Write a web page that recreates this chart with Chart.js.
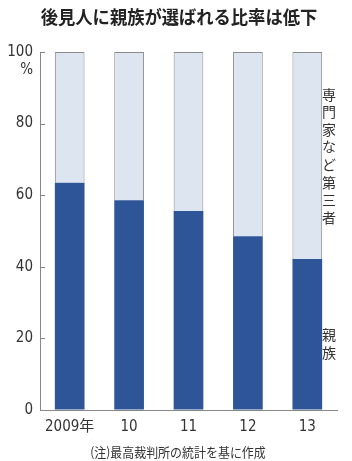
<!DOCTYPE html>
<html><head><meta charset="utf-8">
<script src="https://cdn.jsdelivr.net/npm/chart.js@4"></script>
<style>html,body{margin:0;padding:0;background:#fff}#wrap{width:352px;height:461px;position:relative}</style>
</head><body><div id="wrap"><canvas id="c" width="352" height="461"></canvas></div>
<script>
const titleText = "後見人に親族が選ばれる比率は低下";
const noteText = "(注)最高裁判所の統計を基に作成";
const categories = ["2009年", "10", "11", "12", "13"];
const relatives = [63.5, 58.6, 55.6, 48.5, 42.2];
const thirdParty = [36.5, 41.4, 44.4, 51.5, 57.8];
const seriesNames = ["親族", "専門家など第三者"];
const yTicks = [0, 20, 40, 60, 80, 100];
const unitLabel = "%";

const FONT = "'Liberation Sans Narrow','DejaVu Sans Condensed','Noto Sans CJK JP',sans-serif";
Chart.defaults.font.family = FONT;
Chart.defaults.color = '#333';

const deco = {
  id: 'deco',
  afterDraw(chart) {
    const ctx = chart.ctx, y = chart.scales.y, area = chart.chartArea;
    ctx.save();
    // title
    ctx.fillStyle = '#222';
    ctx.textAlign = 'center'; ctx.textBaseline = 'middle';
    ctx.save(); ctx.translate(179, 17); ctx.scale(0.96, 1);
    ctx.font = "bold 18px 'Noto Sans CJK JP',sans-serif";
    ctx.fillText(titleText, 0, 0); ctx.restore();
    // note
    ctx.fillStyle = '#333';
    ctx.save(); ctx.translate(178, 452); ctx.scale(0.92, 1);
    ctx.font = "13px 'Noto Sans CJK JP',sans-serif";
    ctx.fillText(noteText, 0, 0); ctx.restore();
    // tick marks
    ctx.strokeStyle = '#888'; ctx.lineWidth = 1;
    yTicks.forEach(v => {
      const py = Math.round(y.getPixelForValue(v)) + 0.5;
      ctx.beginPath(); ctx.moveTo(area.left, py); ctx.lineTo(area.left + 5, py); ctx.stroke();
    });
    // unit
    ctx.font = "15px " + FONT; ctx.textAlign = 'right'; ctx.fillStyle = '#333';
    ctx.fillText(unitLabel, 33, y.getPixelForValue(100) + 18);
    // series labels, vertical
    ctx.font = "14px 'Noto Sans CJK JP',sans-serif"; ctx.textAlign = 'center';
    const drawV = (txt, cy) => {
      const chars = Array.from(txt), pitch = 17.6;
      const start = cy - (chars.length - 1) * pitch / 2;
      chars.forEach((ch, i) => ctx.fillText(ch, 329, start + i * pitch));
    };
    drawV(seriesNames[1], y.getPixelForValue(71));
    drawV(seriesNames[0], y.getPixelForValue(18.5));
    ctx.restore();
  }
};

new Chart(document.getElementById('c'), {
  type: 'bar',
  data: {
    labels: categories,
    datasets: [
      { label: seriesNames[0], data: relatives, backgroundColor: '#2d5598', borderWidth: 0 },
      { label: seriesNames[1], data: thirdParty, backgroundColor: '#dde6f0', borderColor: '#8c8c8c',
        borderWidth: { top: 1, left: 1, right: 1, bottom: 0 }, borderSkipped: false }
    ]
  },
  options: {
    responsive: false, animation: false,
    categoryPercentage: 1.0, barPercentage: 0.5,
    layout: { padding: { top: 52, right: 15, left: 0, bottom: 0 } },
    plugins: { legend: { display: false }, title: { display: false }, tooltip: { enabled: false } },
    scales: {
      x: {
        stacked: true,
        grid: { display: true, drawOnChartArea: false, drawTicks: false },
        border: { display: true, color: '#888' },
        ticks: { padding: 8, autoSkip: false, maxRotation: 0, color: '#333', font: { size: 15 } },
        afterFit(s) { s.height = 51; }
      },
      y: {
        stacked: true, min: 0, max: 100,
        grid: { display: true, drawOnChartArea: false, drawTicks: false },
        border: { display: true, color: '#888' },
        afterBuildTicks(s) { s.ticks = yTicks.map(v => ({ value: v })); },
        ticks: { padding: 7, color: '#333', font: { size: 15 } },
        afterFit(s) { s.width = 40; }
      }
    }
  },
  plugins: [deco]
});
</script></body></html>
